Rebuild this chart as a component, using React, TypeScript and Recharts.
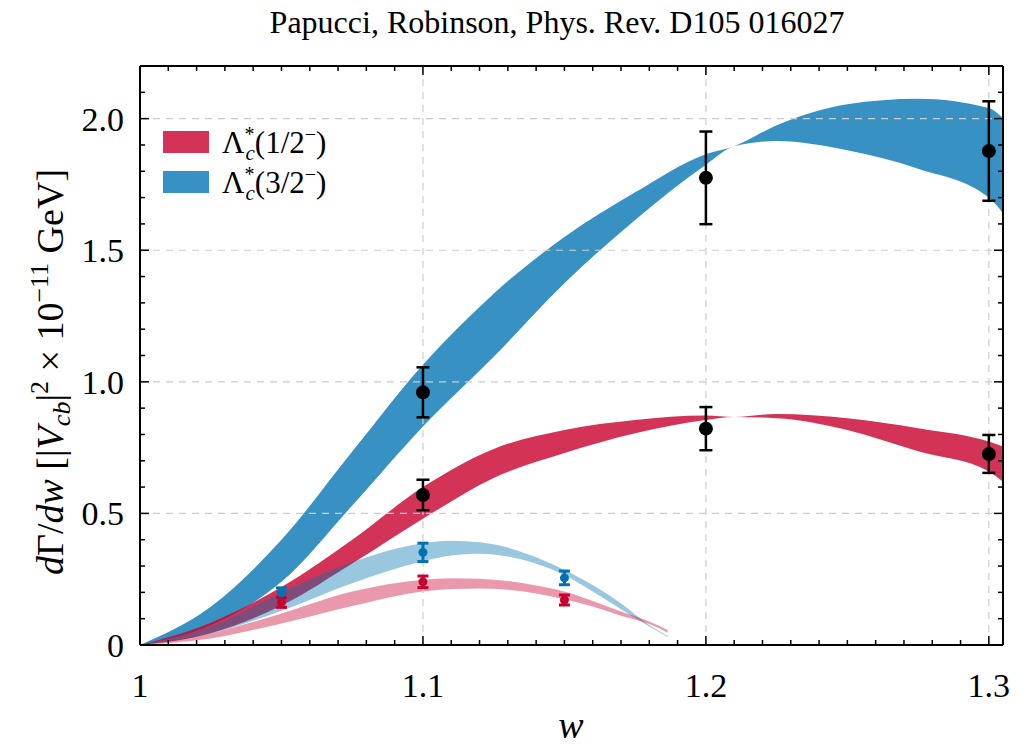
import React from "react";
import {
  ComposedChart,
  Area,
  Scatter,
  ErrorBar,
  XAxis,
  YAxis,
  ReferenceLine
} from "recharts";

// theory bands, dark ones over the full w range
const darkW = [1.0, 1.025, 1.05, 1.075, 1.1, 1.125, 1.15, 1.175, 1.2, 1.21, 1.225, 1.25, 1.275, 1.3, 1.305];
const blueLo = [0, 0.075, 0.24, 0.53, 0.83, 1.095, 1.375, 1.615, 1.825, 1.895, 1.915, 1.88, 1.81, 1.7, 1.64];
const blueHi = [0, 0.145, 0.4, 0.735, 1.065, 1.335, 1.55, 1.72, 1.865, 1.895, 1.975, 2.055, 2.076, 2.04, 2.0];
const redLo = [0, 0.045, 0.15, 0.31, 0.48, 0.635, 0.73, 0.805, 0.855, 0.866, 0.862, 0.817, 0.736, 0.659, 0.62];
const redHi = [0, 0.085, 0.22, 0.4, 0.6, 0.745, 0.817, 0.855, 0.872, 0.866, 0.878, 0.862, 0.824, 0.773, 0.754];

// lighter bands, stop near w = 1.187
const lightW = [1.0, 1.025, 1.05, 1.075, 1.1, 1.11, 1.12, 1.13, 1.14, 1.15, 1.16, 1.17, 1.18, 1.1865];
const lBlueLo = [0, 0.044, 0.13, 0.235, 0.318, 0.34, 0.347, 0.336, 0.309, 0.266, 0.203, 0.136, 0.07, 0.03];
const lBlueHi = [0, 0.07, 0.2, 0.315, 0.387, 0.396, 0.39, 0.37, 0.333, 0.285, 0.228, 0.158, 0.076, 0.034];
const lRedLo = [0, 0.025, 0.082, 0.148, 0.203, 0.213, 0.215, 0.21, 0.196, 0.174, 0.146, 0.111, 0.08, 0.047];
const lRedHi = [0, 0.044, 0.12, 0.203, 0.248, 0.254, 0.252, 0.243, 0.226, 0.203, 0.167, 0.127, 0.089, 0.057];

// lattice points
const blackW = [1.1, 1.1, 1.2, 1.2, 1.3, 1.3];
const blackV = [0.96, 0.57, 1.775, 0.822, 1.877, 0.726];
const blackErr = [0.095, 0.058, 0.176, 0.082, 0.189, 0.072];
const smallW = [1.05, 1.1, 1.15];
const smallBlueV = [0.198, 0.352, 0.255];
const smallBlueErr = [0.019, 0.035, 0.026];
const smallRedV = [0.162, 0.24, 0.171];
const smallRedErr = [0.019, 0.022, 0.019];

const xTicks = Array.from({ length: 31 }, (_, i) => Math.round((1 + i * 0.01) * 1000) / 1000);
const yTicks = Array.from({ length: 23 }, (_, i) => Math.round(i * 0.1 * 1000) / 1000);
const xGrid = [1.1, 1.2, 1.3];
const yGrid = [0.5, 1, 1.5, 2];

const BLUE = "#0072B2";
const RED = "#C8002D";
const FONT = "Liberation Serif";

const allW = Array.from(new Set([...darkW, ...lightW])).sort((a, b) => a - b);
const table = allW.map((w) => {
  const i = darkW.indexOf(w);
  const j = lightW.indexOf(w);
  return {
    w,
    blue: i >= 0 ? [blueLo[i], blueHi[i]] : null,
    red: i >= 0 ? [redLo[i], redHi[i]] : null,
    lblue: j >= 0 ? [lBlueLo[j], lBlueHi[j]] : null,
    lred: j >= 0 ? [lRedLo[j], lRedHi[j]] : null
  };
});

const points = (ws: number[], vs: number[], es: number[]) =>
  ws.map((w, i) => ({ w, v: vs[i], err: es[i] }));

const blackPts = points(blackW, blackV, blackErr);
const bluePts = points(smallW, smallBlueV, smallBlueErr);
const redPts = points(smallW, smallRedV, smallRedErr);

const fmtX = (v: number) => (v === 1 ? "1" : v.toFixed(1));
const fmtY = (v: number) => (v === 0 ? "0" : v.toFixed(1));
const isMajor = (v: number, step: number) => Math.abs(v / step - Math.round(v / step)) < 1e-6;

// inward ticks: long on major values, short otherwise; labels only bottom/left
const XTick = (p: any) => {
  const v = p.payload.value;
  const len = isMajor(v, 0.1) ? 9 : 5;
  return (
    <g>
      <line x1={p.x} x2={p.x} y1={p.y} y2={p.top ? p.y + len : p.y - len} stroke="#000" strokeWidth={1.5} />
      {!p.top && isMajor(v, 0.1) && (
        <text x={p.x} y={p.y + 52} textAnchor="middle" fontFamily={FONT} fontSize={34} fill="#000">
          {fmtX(v)}
        </text>
      )}
    </g>
  );
};

const YTick = (p: any) => {
  const v = p.payload.value;
  const len = isMajor(v, 0.5) ? 9 : 5;
  return (
    <g>
      <line x1={p.x} x2={p.right ? p.x - len : p.x + len} y1={p.y} y2={p.y} stroke="#000" strokeWidth={1.5} />
      {!p.right && isMajor(v, 0.5) && (
        <text x={p.x - 16} y={p.y + 12} textAnchor="end" fontFamily={FONT} fontSize={34} fill="#000">
          {fmtY(v)}
        </text>
      )}
    </g>
  );
};

const frame = { stroke: "#000", strokeWidth: 2 };
const gridLine = { stroke: "#cdcdcd", strokeDasharray: "7 6", strokeWidth: 1.2 };

const dot = (r: number, fill: string) => (p: any) =>
  <circle cx={p.cx} cy={p.cy} r={r} fill={fill} />;

const LegendLabel = ({ y, frac }: { y: number; frac: string }) => (
  <text x={222} y={y} fontFamily={FONT} fontSize={31} fill="#000">
    <tspan>Λ</tspan>
    <tspan dy={-12} fontSize={20}>*</tspan>
    <tspan dx={-9} dy={19} fontSize={21} fontStyle="italic">c</tspan>
    <tspan dy={-7}>{"(" + frac}</tspan>
    <tspan dy={-12} fontSize={20}>−</tspan>
    <tspan dy={12}>)</tspan>
  </text>
);

export default function App() {
  return (
    <div style={{ position: "absolute", left: 0, top: 0, width: 1029, height: 745, background: "#fff" }}>
      <ComposedChart
        width={1029}
        height={745}
        data={table}
        margin={{ top: 65, right: 25, bottom: 40, left: 80 }}
      >
        {xGrid.map((v) => (
          <ReferenceLine key={"gx" + v} x={v} {...gridLine} />
        ))}
        {yGrid.map((v) => (
          <ReferenceLine key={"gy" + v} y={v} {...gridLine} />
        ))}
        <Area dataKey="blue" type="monotone" stroke="none" fill={BLUE} fillOpacity={0.78} connectNulls isAnimationActive={false} />
        <Area dataKey="red" type="monotone" stroke="none" fill={RED} fillOpacity={0.8} connectNulls isAnimationActive={false} />
        <Area dataKey="lblue" type="monotone" stroke="none" fill={BLUE} fillOpacity={0.4} connectNulls isAnimationActive={false} />
        <Area dataKey="lred" type="monotone" stroke="none" fill={RED} fillOpacity={0.4} connectNulls isAnimationActive={false} />
        <Scatter data={bluePts} dataKey="v" shape={dot(4.5, BLUE)} isAnimationActive={false}>
          <ErrorBar dataKey="err" direction="y" width={5.5} stroke={BLUE} strokeWidth={3} isAnimationActive={false} />
        </Scatter>
        <Scatter data={redPts} dataKey="v" shape={dot(4.5, RED)} isAnimationActive={false}>
          <ErrorBar dataKey="err" direction="y" width={5.5} stroke={RED} strokeWidth={3} isAnimationActive={false} />
        </Scatter>
        <Scatter data={blackPts} dataKey="v" shape={dot(7, "#000")} isAnimationActive={false}>
          <ErrorBar dataKey="err" direction="y" width={6.5} stroke="#000" strokeWidth={2.5} isAnimationActive={false} />
        </Scatter>

        <XAxis dataKey="w" type="number" domain={[1, 1.305]} allowDataOverflow ticks={xTicks} interval={0}
          height={60} tickSize={0} tickMargin={0} tickLine={false} axisLine={frame}
          tick={(p: any) => <XTick {...p} />} />
        <XAxis xAxisId="top" dataKey="w" orientation="top" type="number" domain={[1, 1.305]} allowDataOverflow ticks={xTicks} interval={0}
          height={1} tickSize={0} tickMargin={0} tickLine={false} axisLine={frame}
          tick={(p: any) => <XTick {...p} top />} />
        <YAxis type="number" domain={[0, 2.2]} allowDataOverflow ticks={yTicks} interval={0}
          width={60} tickSize={0} tickMargin={0} tickLine={false} axisLine={frame}
          tick={(p: any) => <YTick {...p} />} />
        <YAxis yAxisId="right" orientation="right" type="number" domain={[0, 2.2]} allowDataOverflow ticks={yTicks} interval={0}
          width={1} tickSize={0} tickMargin={0} tickLine={false} axisLine={frame}
          tick={(p: any) => <YTick {...p} right />} />
      </ComposedChart>

      <svg width={1029} height={745} style={{ position: "absolute", left: 0, top: 0, pointerEvents: "none" }}>
        <text x={557} y={33} textAnchor="middle" fontFamily={FONT} fontSize={32} fill="#000">
          Papucci, Robinson, Phys. Rev. D105 016027
        </text>
        <text x={571} y={738} textAnchor="middle" fontFamily={FONT} fontSize={38} fontStyle="italic" fill="#000">
          w
        </text>
        <text transform="translate(63,372) rotate(-90)" textAnchor="middle" fontFamily={FONT} fontSize={38} fill="#000">
          <tspan fontStyle="italic">d</tspan>
          <tspan>Γ/</tspan>
          <tspan fontStyle="italic">dw</tspan>
          <tspan> [|</tspan>
          <tspan fontStyle="italic">V</tspan>
          <tspan fontStyle="italic" fontSize={26} dy={7}>cb</tspan>
          <tspan dy={-7}>|</tspan>
          <tspan fontSize={26} dy={-15}>2</tspan>
          <tspan dy={15}> × 10</tspan>
          <tspan fontSize={26} dy={-15}>−11</tspan>
          <tspan dy={15}> GeV]</tspan>
        </text>
        <rect x={163} y={131} width={46} height={22} fill={RED} fillOpacity={0.8} />
        <rect x={163} y={171} width={46} height={22} fill={BLUE} fillOpacity={0.78} />
        <LegendLabel y={153} frac="1/2" />
        <LegendLabel y={193} frac="3/2" />
      </svg>
    </div>
  );
}
